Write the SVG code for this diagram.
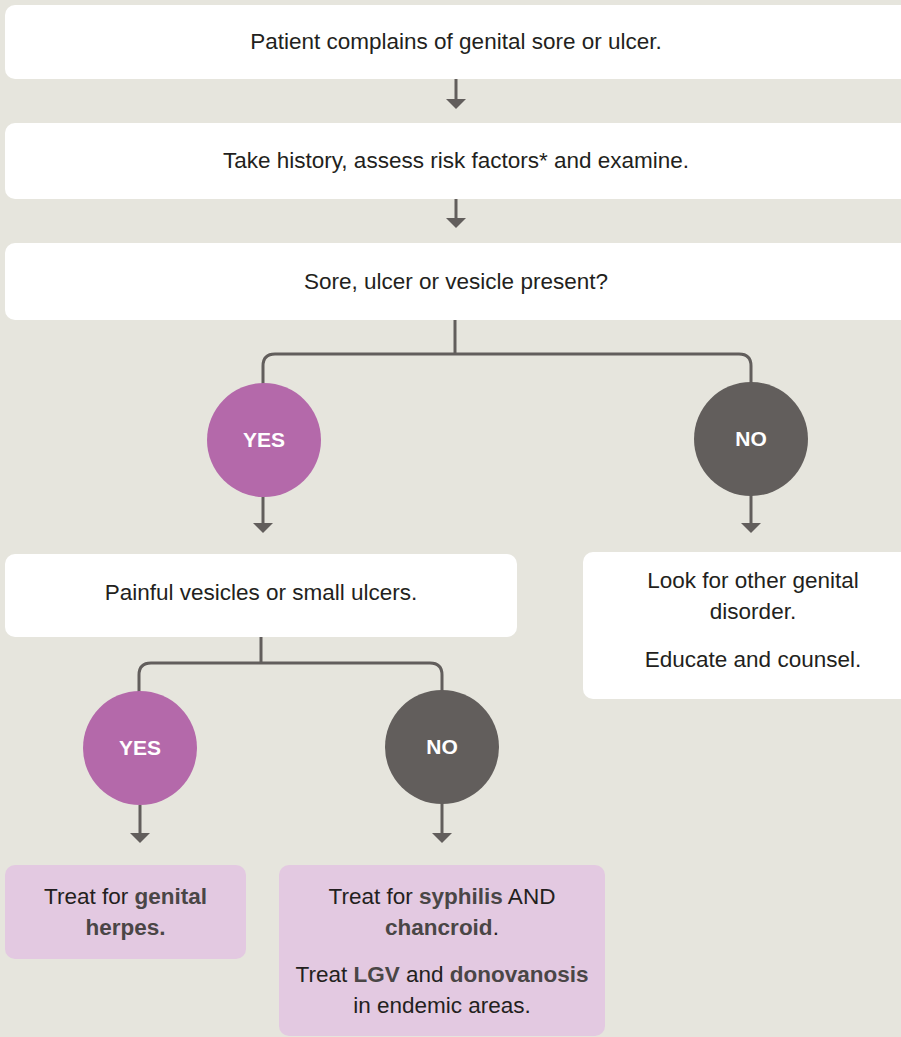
<svg xmlns="http://www.w3.org/2000/svg" width="901" height="1037" viewBox="0 0 901 1037">
<style>
.bg{fill:#e6e5dd}
.box{fill:#ffffff}
.pink{fill:#e3c9e1}
.yes{fill:#b469aa}
.no{fill:#625e5c}
.t{font-family:"Liberation Sans",Arial,sans-serif;font-size:22.5px;fill:#231f20;text-anchor:middle}
.b{font-weight:bold;fill:#4a4646}
.c{font-family:"Liberation Sans",Arial,sans-serif;font-size:21px;font-weight:bold;fill:#ffffff;text-anchor:middle}
.ln{fill:none;stroke:#625e5c;stroke-width:3}
</style>
<defs>
<marker id="ah" markerUnits="userSpaceOnUse" markerWidth="10" markerHeight="20" refX="0" refY="10" orient="auto" viewBox="0 0 10 20">
<path d="M0,0 L10,10 L0,20 z" fill="#625e5c"/>
</marker>
</defs>
<rect class="bg" x="0" y="0" width="901" height="1037"/>
<g id="connectors">
<path class="ln" d="M456,79 V99" marker-end="url(#ah)"/>
<path class="ln" d="M456,199 V218" marker-end="url(#ah)"/>
<path class="ln" d="M455,320 V354"/>
<path class="ln" d="M263,384 V366 Q263,354 275,354 H739 Q751,354 751,366 V384"/>
<path class="ln" d="M263,496 V523" marker-end="url(#ah)"/>
<path class="ln" d="M751,495 V523" marker-end="url(#ah)"/>
<path class="ln" d="M261,637 V663"/>
<path class="ln" d="M139,692 V675 Q139,663 151,663 H430 Q442,663 442,675 V691"/>
<path class="ln" d="M140,805 V833" marker-end="url(#ah)"/>
<path class="ln" d="M442,803 V833" marker-end="url(#ah)"/>
</g>
<g id="n1">
<rect class="box" x="5" y="5" width="910" height="74" rx="10"/>
<text class="t" x="456" y="49">Patient complains of genital sore or ulcer.</text>
</g>
<g id="n2">
<rect class="box" x="5" y="123" width="910" height="76" rx="10"/>
<text class="t" x="456" y="168">Take history, assess risk factors* and examine.</text>
</g>
<g id="n3">
<rect class="box" x="5" y="243" width="910" height="77" rx="10"/>
<text class="t" x="456" y="289">Sore, ulcer or vesicle present?</text>
</g>
<g id="yes1">
<circle class="yes" cx="264" cy="440" r="57"/>
<text class="c" x="264" y="447">YES</text>
</g>
<g id="no1">
<circle class="no" cx="751" cy="439" r="57"/>
<text class="c" x="751" y="446">NO</text>
</g>
<g id="n4">
<rect class="box" x="5" y="554" width="512" height="83" rx="10"/>
<text class="t" x="261" y="600">Painful vesicles or small ulcers.</text>
</g>
<g id="n5">
<rect class="box" x="583" y="552" width="340" height="147" rx="10"/>
<text class="t" x="753" y="588">Look for other genital</text>
<text class="t" x="753" y="619">disorder.</text>
<text class="t" x="753" y="667">Educate and counsel.</text>
</g>
<g id="yes2">
<circle class="yes" cx="140" cy="748" r="57"/>
<text class="c" x="140" y="755">YES</text>
</g>
<g id="no2">
<circle class="no" cx="442" cy="747" r="57"/>
<text class="c" x="442" y="754">NO</text>
</g>
<g id="n6">
<rect class="pink" x="5" y="865" width="241" height="94" rx="10"/>
<text class="t" x="125.5" y="904">Treat for <tspan class="b">genital</tspan></text>
<text class="t" x="125.5" y="935"><tspan class="b">herpes.</tspan></text>
</g>
<g id="n7">
<rect class="pink" x="279" y="865" width="326" height="171" rx="10"/>
<text class="t" x="442" y="904">Treat for <tspan class="b">syphilis</tspan> AND</text>
<text class="t" x="442" y="935"><tspan class="b">chancroid</tspan>.</text>
<text class="t" x="442" y="982">Treat <tspan class="b">LGV</tspan> and <tspan class="b">donovanosis</tspan></text>
<text class="t" x="442" y="1013">in endemic areas.</text>
</g>
</svg>
